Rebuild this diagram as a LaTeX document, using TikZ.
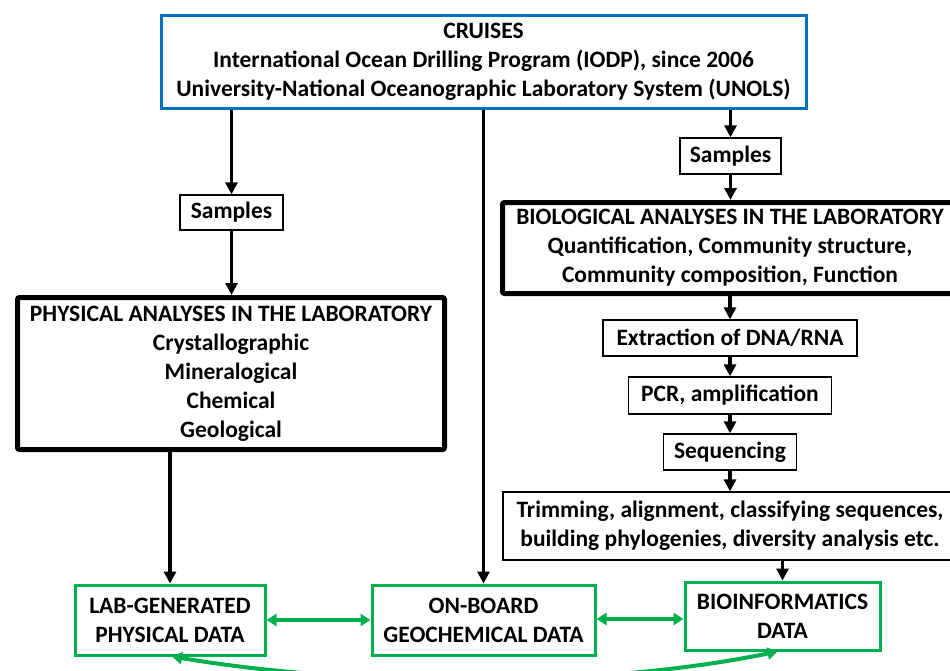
\documentclass[tikz,border=0pt]{standalone}
\usepackage{fontspec}
\setmainfont{Carlito}
\usetikzlibrary{arrows.meta}

\definecolor{cruiseblue}{RGB}{0,112,192}
\definecolor{datagreen}{RGB}{0,176,80}

\tikzset{
  every node/.style={align=center, font=\fontsize{23.5}{29}\selectfont\bfseries, inner sep=0pt},
  stepbox/.style={draw, line width=1.3pt},
  labbox/.style={draw, line width=5pt, rounded corners=2pt},
  cruisebox/.style={draw=cruiseblue, line width=3pt},
  databox/.style={draw=datagreen, line width=3pt},
  arr/.style={line width=3.5pt, -{Triangle[length=12pt,width=12pt]}},
  garr/.style={datagreen, line width=4pt, {Triangle[length=10pt,width=12pt]}-{Triangle[length=10pt,width=12pt]}}
}

\begin{document}
\begin{tikzpicture}[x=1pt, y=-1pt]
  \useasboundingbox (0,0) rectangle (950,670);
  \clip (0,0) rectangle (950,670);
  % Cruises
  \node[cruisebox, minimum width=645pt, minimum height=93pt] (cruise) at (483.5,61.5)
    {CRUISES\\ International Ocean Drilling Program (IODP), since 2006\\ University-National Oceanographic Laboratory System (UNOLS)};
  % Physical branch
  \node[stepbox, minimum width=103pt, minimum height=35pt] (samplesL) at (231.5,212.5) {Samples};
  \node[labbox, minimum width=427pt, minimum height=152pt] (phys) at (231,373.5)
    {PHYSICAL ANALYSES IN THE LABORATORY\\ Crystallographic\\ Mineralogical\\ Chemical\\ Geological};
  % Biological branch
  \node[stepbox, minimum width=101pt, minimum height=36pt] (samplesR) at (730.5,156) {Samples};
  \node[labbox, minimum width=455pt, minimum height=91pt] (bio) at (730,248)
    {BIOLOGICAL ANALYSES IN THE LABORATORY\\ Quantification, Community structure,\\ Community composition, Function};
  \node[stepbox, minimum width=254pt, minimum height=36pt] (extr) at (730,338) {Extraction of DNA/RNA};
  \node[stepbox, minimum width=203pt, minimum height=37pt] (pcr) at (730,395.5) {PCR, amplification};
  \node[stepbox, minimum width=133pt, minimum height=36pt] (seq) at (730,452) {Sequencing};
  \node[stepbox, minimum width=454pt, minimum height=68pt] (trim) at (730,526)
    {Trimming, alignment, classifying sequences,\\ building phylogenies, diversity analysis etc.};
  % Data
  \node[databox, minimum width=190pt, minimum height=70pt] (lab) at (170,620) {LAB-GENERATED\\ PHYSICAL DATA};
  \node[databox, minimum width=223pt, minimum height=70pt] (onboard) at (483.5,620) {ON-BOARD\\ GEOCHEMICAL DATA};
  \node[databox, minimum width=195pt, minimum height=68pt] (bioinfo) at (782.5,616) {BIOINFORMATICS\\ DATA};
  % Black arrows
  \draw[arr] (samplesL |- cruise.south) -- (samplesL.north);
  \draw[arr] (samplesL.south) -- (phys.north -| samplesL);
  \draw[arr] (lab |- phys.south) -- (lab.north);
  \draw[arr] (onboard.north |- cruise.south) -- (onboard.north);
  \draw[arr] (samplesR |- cruise.south) -- (samplesR.north);
  \draw[arr] (samplesR.south) -- (bio.north -| samplesR);
  \draw[arr] (bio.south -| extr) -- (extr.north);
  \draw[arr] (extr.south) -- (pcr.north);
  \draw[arr] (pcr.south) -- (seq.north);
  \draw[arr] (seq.south) -- (trim.north -| seq);
  \draw[arr] (bioinfo |- trim.south) -- (bioinfo.north);
  % Green arrows
  \draw[garr] (lab.east) -- (onboard.west);
  \draw[garr] (onboard.east |- bioinfo.west) ++(0,3) coordinate (gA) (gA) -- (gA -| bioinfo.west);
  \draw[garr] (lab.south) ++(2,0) coordinate (gL) (bioinfo.south) ++(-5,0) coordinate (gR)
    (gL) .. controls (360,688) and (600,688) .. (gR);
\end{tikzpicture}
\end{document}
